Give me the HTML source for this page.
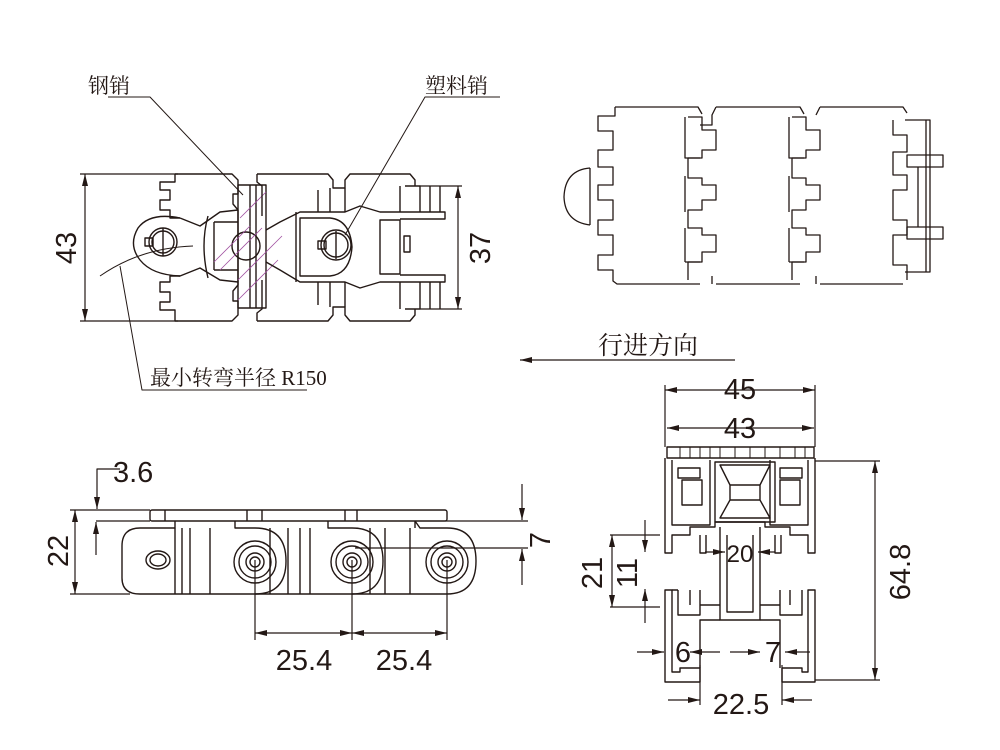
<!DOCTYPE html>
<html><head><meta charset="utf-8"><style>
html,body{margin:0;padding:0;background:#fff}
svg{display:block}
text{font-family:"Liberation Sans","Noto Sans CJK SC",sans-serif;fill:#231815}
.c{font-family:"Liberation Serif","Noto Serif CJK SC","Noto Sans CJK SC",serif}
</style></head><body>
<svg width="1000" height="750" viewBox="0 0 1000 750" xmlns="http://www.w3.org/2000/svg">
<defs>
<marker id="a" viewBox="0 0 12 6" refX="12" refY="3" markerWidth="12" markerHeight="6" orient="auto-start-reverse" markerUnits="userSpaceOnUse"><path d="M0,0 L12,3 L0,6 z" fill="#231815"/></marker>
</defs>
<g fill="none" stroke="#231815" stroke-width="1.4" stroke-linejoin="round">

<!-- ===== TOP-LEFT VIEW ===== -->
<g stroke-width="1.2">
<line x1="80" y1="174" x2="178" y2="174"/>
<line x1="80" y1="321" x2="178" y2="321"/>
<line x1="85" y1="174" x2="85" y2="321" marker-start="url(#a)" marker-end="url(#a)"/>
<line x1="420" y1="186" x2="462" y2="186"/>
<line x1="420" y1="309" x2="462" y2="309"/>
<line x1="458" y1="186" x2="458" y2="309" marker-start="url(#a)" marker-end="url(#a)"/>
</g>
<path d="M175,174 H232 L238,180 V194 H233 V204 L238,210 V285 L233,291 V301 H238 V315 L232,321 H175 V310 H160 V302 H170 V292 H160 V282 H170 V276 H180 M180,218 H170 V210 H160 V200 H170 V190 H160 V182 H175 V174"/>
<path d="M180,218 Q150,212 138,228 Q128,245 140,260 Q152,275 180,276 L200,268 L220,280 L238,282"/>
<path d="M180,218 L200,226 L220,212 L238,210"/>
<circle cx="163" cy="242" r="14"/><circle cx="163" cy="242" r="11"/>
<line x1="163" y1="228" x2="163" y2="256"/><rect x="145" y="238" width="8" height="8"/>
<path d="M208,216 Q200,245 208,278"/>
<rect x="238" y="185" width="28" height="123"/>
<line x1="250" y1="185" x2="250" y2="308"/><line x1="256" y1="185" x2="256" y2="308"/>
<path d="M214,222 H238 M214,270 H238 M214,222 V270"/>
<circle cx="246" cy="246" r="14"/>
<g stroke="#a050a0" stroke-width="0.8"><line x1="214" y1="262" x2="250" y2="226"/><line x1="220" y1="270" x2="262" y2="228"/><line x1="238" y1="300" x2="278" y2="260"/><line x1="240" y1="218" x2="266" y2="192"/><line x1="238" y1="280" x2="282" y2="236"/></g>
<path d="M257,174 H328 L333,180 V188 H345 V180 L350,174 H410 L415,180 V186 M257,174 V182 L262,186 V216 M257,321 V313 L262,309 V280 M257,321 H328 L333,315 V307 H345 V315 L350,321 H410 L415,315 V309"/>
<path d="M266,230 L280,222 L300,212 L345,212 L360,206 L380,212 H445 V219 H400 M266,262 L280,270 L300,282 L345,282 L360,288 L380,282 H445 V275 H400"/>
<path d="M300,218 H330 Q350,220 352,247 Q350,274 330,276 H300 Z"/>
<path d="M296,212 V282"/>
<circle cx="336" cy="245" r="15"/><circle cx="336" cy="245" r="12"/>
<line x1="336" y1="231" x2="336" y2="259"/><rect x="318" y="241" width="8" height="8"/>
<path d="M318,190 V212 M318,282 V305 M330,188 V212 M330,282 V307 M345,188 V212 M345,282 V307"/>
<path d="M405,186 H420 V212 M405,309 H420 V282 M380,220 H400 V274 H380 Z"/>
<path d="M400,186 V212 M400,282 V309 M430,186 V212 M430,282 V309 M440,186 V212 M440,282 V309"/>
<rect x="404" y="236" width="6" height="16"/>

<text x="88" y="93" class="c" font-size="21" stroke="none">钢销</text>
<polyline points="108,97 150,97 243,195" stroke-width="1"/>
<text x="425" y="93" class="c" font-size="21" stroke="none">塑料销</text>
<polyline points="500,97 425,97 345,235" stroke-width="1"/>
<path d="M100,276 Q140,248 193,246" stroke-width="1"/>
<polyline points="120,266 142,390 307,390" stroke-width="1"/>
<text x="150" y="385" class="c" font-size="21" stroke="none">最小转弯半径 R150</text>

<!-- ===== TOP-RIGHT VIEW ===== -->
<g stroke-width="1.3">
<path d="M615,107 H698 L702,114 M615,107 V116 H598 V131 H613 V150 H598 V167 H613 V185 H598 V200 H613 V220 H598 V235 H613 V255 H598 V270 H613 V281 L617,284 H700"/>
<path d="M590,168 Q565,170 564,197 Q565,222 590,225 M590,168 V225"/>
<path d="M716,107 H800 L804,114 M716,107 L712,115 V125 H700 M716,284 H800 M712,276 V284"/>
<path d="M820,107 H903 L907,113 M820,107 L816,115 M820,284 H903 M816,276 V284"/>
<g><path d="M688,117 H702 V130 H716 V150 H702 V158 H688 V178 H702 V185 H716 V200 H702 V210 H688 V228 H702 V235 H716 V252 H702 V262 H688 V280"/>
<path d="M685,117 V158 H700 M685,176 V212 M685,228 V262 M685,262 H700"/></g>
<g transform="translate(104,0)"><path d="M688,117 H702 V130 H716 V150 H702 V158 H688 V178 H702 V185 H716 V200 H702 V210 H688 V228 H702 V235 H716 V252 H702 V262 H688 V280"/>
<path d="M685,117 V158 H700 M685,176 V212 M685,228 V262 M685,262 H700"/></g>
<path d="M893,120 V135 H907 V152 H893 V160 V175 H907 V190 H893 V205 V220 H907 V235 H893 V250 V265 H907 V280"/>
<path d="M905,120 H930 V272 H905 M926,120 V272"/>
<rect x="907" y="155" width="36" height="12"/><rect x="907" y="227" width="36" height="12"/>
<line x1="918" y1="167" x2="918" y2="227"/>
</g>

<line x1="520" y1="360" x2="735" y2="360" stroke-width="1.2" marker-start="url(#a)"/>
<text x="598" y="354" class="c" font-size="25" stroke="none">行进方向</text>

<!-- ===== BOTTOM-LEFT VIEW ===== -->
<g stroke-width="1.2">
<line x1="70" y1="510" x2="150" y2="510"/><line x1="70" y1="594" x2="130" y2="594"/>
<line x1="75" y1="510" x2="75" y2="594" marker-start="url(#a)" marker-end="url(#a)"/>
<polyline points="120,469 97,469 97,509" marker-end="url(#a)"/>
<line x1="96" y1="521" x2="150" y2="521"/>
<line x1="96" y1="555" x2="96" y2="522" marker-end="url(#a)"/>
<line x1="445" y1="521" x2="528" y2="521"/><line x1="355" y1="548" x2="528" y2="548"/>
<line x1="522" y1="484" x2="522" y2="520" marker-end="url(#a)"/>
<line x1="522" y1="585" x2="522" y2="549" marker-end="url(#a)"/>
<line x1="255" y1="560" x2="255" y2="640"/><line x1="352" y1="560" x2="352" y2="640"/><line x1="447" y1="560" x2="447" y2="640"/>
<line x1="255" y1="633" x2="352" y2="633" marker-start="url(#a)" marker-end="url(#a)"/>
<line x1="352" y1="633" x2="447" y2="633" marker-start="url(#a)" marker-end="url(#a)"/>
</g>
<rect x="150" y="510" width="297" height="11" rx="2"/>
<path d="M165,510 V521 M247,510 V521 M262,510 V521 M345,510 V521 M357,510 V521"/>
<path d="M140,528 H175 V521 M140,528 Q122,528 122,546 V578 Q122,594 140,594 H447 Q476,594 476,561 Q476,528 447,528 H420 L415,521 M415,521 V528"/>
<path d="M235,521 V528 H255 Q286,528 286,561 Q286,594 255,594 M328,521 V528 H352 Q383,528 383,561 Q383,594 352,594"/>
<path d="M175,528 V594 M182,528 V594 M190,528 V594 M210,528 V594 M270,528 V594 M288,528 V594 M300,528 V594 M310,528 V594 M370,528 V594 M385,528 V594 M410,528 V594"/>
<ellipse cx="158" cy="560" rx="12" ry="9"/><ellipse cx="158" cy="560" rx="8" ry="6"/>
<g><circle cx="255" cy="562" r="21"/><circle cx="255" cy="562" r="16"/><circle cx="255" cy="562" r="9"/><circle cx="255" cy="562" r="5"/></g>
<g><circle cx="352" cy="562" r="21"/><circle cx="352" cy="562" r="16"/><circle cx="352" cy="562" r="9"/><circle cx="352" cy="562" r="5"/></g>
<g><circle cx="447" cy="562" r="21"/><circle cx="447" cy="562" r="16"/><circle cx="447" cy="562" r="9"/><circle cx="447" cy="562" r="5"/></g>

<!-- ===== BOTTOM-RIGHT VIEW ===== -->
<g stroke-width="1.2">
<line x1="665" y1="385" x2="665" y2="447"/><line x1="815" y1="385" x2="815" y2="447"/>
<line x1="665" y1="390" x2="815" y2="390" marker-start="url(#a)" marker-end="url(#a)"/>
<line x1="667" y1="428" x2="814" y2="428" marker-start="url(#a)" marker-end="url(#a)"/>
<line x1="815" y1="461" x2="880" y2="461"/><line x1="815" y1="680" x2="880" y2="680"/>
<line x1="875" y1="461" x2="875" y2="680" marker-start="url(#a)" marker-end="url(#a)"/>
<line x1="610" y1="535" x2="660" y2="535"/><line x1="610" y1="607" x2="660" y2="607"/>
<line x1="612" y1="535" x2="612" y2="607" marker-start="url(#a)" marker-end="url(#a)"/>
<line x1="645" y1="520" x2="645" y2="552" marker-end="url(#a)"/>
<line x1="645" y1="623" x2="645" y2="589" marker-end="url(#a)"/>
<line x1="705" y1="552" x2="725" y2="552" marker-end="url(#a)"/>
<line x1="775" y1="552" x2="758" y2="552" marker-end="url(#a)"/>
<line x1="637" y1="652" x2="664" y2="652" marker-end="url(#a)"/>
<line x1="690" y1="652" x2="720" y2="652" marker-start="url(#a)"/>
<line x1="730" y1="652" x2="760" y2="652" marker-end="url(#a)"/>
<line x1="810" y1="652" x2="785" y2="652" marker-end="url(#a)"/>
<line x1="700" y1="665" x2="700" y2="705"/><line x1="782" y1="665" x2="782" y2="705"/>
<line x1="668" y1="700" x2="700" y2="700" marker-end="url(#a)"/>
<line x1="812" y1="700" x2="782" y2="700" marker-end="url(#a)"/>
</g>
<rect x="667" y="447" width="147" height="11"/>
<path d="M680,447 V458 M690,447 V458 M700,447 V458 M710,447 V458 M720,447 V458 M735,447 V458 M750,447 V458 M765,447 V458 M780,447 V458 M795,447 V458 M805,447 V458" stroke-width="1"/>
<path d="M665,458 V553 H672 V535 H690 V527 H715 V522 H765 V527 H790 V535 H808 V553 H815 V458"/>
<path d="M672,460 V525 H710 V460 M808,460 V525 H770 V460"/>
<rect x="682" y="480" width="20" height="25"/><rect x="780" y="480" width="20" height="25"/>
<path d="M678,468 H700 V478 H678 Z M780,468 H802 V478 H780 Z"/>
<rect x="715" y="462" width="60" height="60"/>
<path d="M720,465 H770 L760,485 V500 L770,518 H720 L730,500 V485 Z M730,485 H760 M730,500 H760"/>
<path d="M700,535 V553 H706 V535 M775,535 V553 H781 V535"/>
<path d="M720,527 V620 H760 V527 M727,535 V612 H753 V535"/>
<path d="M665,590 V682 H700 V668 H680 V672 H672 V590 Z M815,590 V682 H782 V668 H802 V672 H808 V590 Z"/>
<path d="M678,590 H672 M678,590 V615 H700 V605 H720 M802,590 V615 H780 V605 H760 M700,590 V605 M780,590 V605 M720,620 H700 V668 M760,620 H780 V668 M690,590 V605 M790,590 V605"/>
</g>

<g stroke="none" font-size="29">
<text x="66" y="258" transform="rotate(-90 66 248)" text-anchor="middle">43</text>
<text x="480" y="258" transform="rotate(-90 480 248)" text-anchor="middle">37</text>
<text x="113" y="482">3.6</text>
<text x="58" y="561" transform="rotate(-90 58 551)" text-anchor="middle">22</text>
<text x="540" y="550" transform="rotate(-90 540 540)" text-anchor="middle">7</text>
<text x="304" y="670" text-anchor="middle">25.4</text>
<text x="404" y="670" text-anchor="middle">25.4</text>
<text x="740" y="399" text-anchor="middle">45</text>
<text x="740" y="438" text-anchor="middle">43</text>
<text x="740" y="562" text-anchor="middle" font-size="24">20</text>
<text x="592" y="583" transform="rotate(-90 592 573)" text-anchor="middle">21</text>
<text x="627" y="583" transform="rotate(-90 627 573)" text-anchor="middle">11</text>
<text x="900" y="582" transform="rotate(-90 900 572)" text-anchor="middle">64.8</text>
<text x="683" y="662" text-anchor="middle">6</text>
<text x="773" y="662" text-anchor="middle">7</text>
<text x="741" y="714" text-anchor="middle">22.5</text>
</g>
</svg>
</body></html>
